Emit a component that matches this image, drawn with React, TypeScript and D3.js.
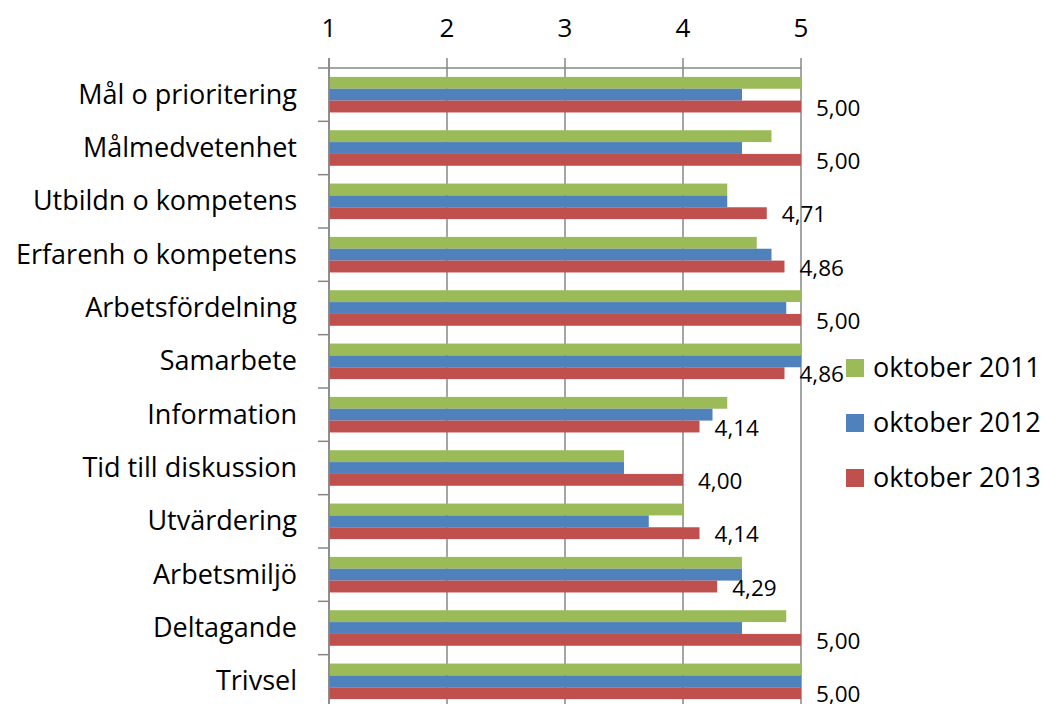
import React from "react";
import * as d3 from "d3";

const categories = [
  "Mål o prioritering",
  "Målmedvetenhet",
  "Utbildn o kompetens",
  "Erfarenh o kompetens",
  "Arbetsfördelning",
  "Samarbete",
  "Information",
  "Tid till diskussion",
  "Utvärdering",
  "Arbetsmiljö",
  "Deltagande",
  "Trivsel",
];

const seriesNames = ["oktober 2011", "oktober 2012", "oktober 2013"];
const oct2011 = [5, 4.75, 4.375, 4.625, 5, 5, 4.375, 3.5, 4, 4.5, 4.875, 5];
const oct2012 = [4.5, 4.5, 4.375, 4.75, 4.875, 5, 4.25, 3.5, 3.71, 4.5, 4.5, 5];
const oct2013 = [5, 5, 4.71, 4.86, 5, 4.86, 4.14, 4, 4.14, 4.29, 5, 5];
const xTicks = [1, 2, 3, 4, 5];
const colors = ["#9BBB59", "#4F81BD", "#C0504D"];

const W = 1051;
const H = 704;
const font = "'Open Sans', sans-serif";

export default function App() {
  const series = [oct2011, oct2012, oct2013];
  const x = d3.scaleLinear().domain([1, 5]).range([329, 801]);
  const y = d3.scaleBand<string>().domain(categories).range([68, 708]);
  const inner = d3
    .scaleBand<number>()
    .domain([0, 1, 2])
    .range([0, y.bandwidth()])
    .paddingOuter(0.75);
  const fmt = (v: number) => d3.format(".2f")(v).replace(".", ",");
  const grid = "#878787";

  return (
    <svg
      width={W}
      height={H}
      style={{ position: "absolute", left: 0, top: 0, background: "#fff" }}
      fontFamily={font}
    >
      {/* gridlines + top ticks */}
      {xTicks.map((t) => (
        <g key={t}>
          <line x1={x(t)} x2={x(t)} y1={58} y2={H} stroke={grid} strokeWidth={1.5} />
          <text x={x(t)} y={37} textAnchor="middle" fontSize={26} fill="#000">
            {t}
          </text>
        </g>
      ))}
      <line x1={x(1)} x2={x(5)} y1={68} y2={68} stroke={grid} strokeWidth={1.5} />

      {/* category ticks */}
      {categories.map((c) => (
        <line key={c} x1={318} x2={329} y1={y(c)!} y2={y(c)!} stroke={grid} strokeWidth={1.5} />
      ))}
      <line x1={318} x2={329} y1={708} y2={708} stroke={grid} strokeWidth={1.5} />

      {/* bars */}
      {categories.map((c, i) => (
        <g key={c} transform={`translate(0,${y(c)})`}>
          {series.map((s, k) => (
            <rect
              key={k}
              x={x(1)}
              y={inner(k)!}
              width={x(s[i]) - x(1)}
              height={inner.bandwidth()}
              fill={colors[k]}
            />
          ))}
          <text
            x={x(oct2013[i]) + 15}
            y={inner(2)! + inner.bandwidth() / 2 + 9}
            fontSize={22.5}
            fill="#000"
          >
            {fmt(oct2013[i])}
          </text>
          <text
            x={297}
            y={y.bandwidth() / 2 + 9}
            textAnchor="end"
            fontSize={27}
            fill="#000"
          >
            {c}
          </text>
        </g>
      ))}
      <line x1={x(1)} x2={x(1)} y1={58} y2={H} stroke={grid} strokeWidth={1.5} />

      {/* legend */}
      {seriesNames.map((n, k) => (
        <g key={n} transform={`translate(846,${359 + k * 55})`}>
          <rect width={18} height={18} fill={colors[k]} />
          <text x={27} y={18} fontSize={27} fill="#000">
            {n}
          </text>
        </g>
      ))}
    </svg>
  );
}
